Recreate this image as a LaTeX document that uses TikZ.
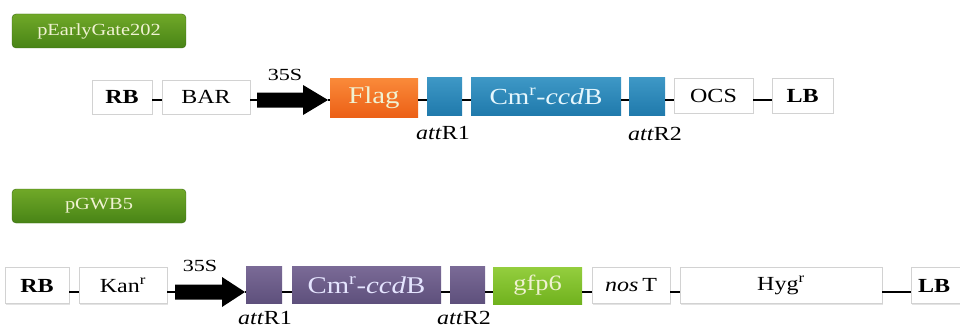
\documentclass[tikz,border=0pt]{standalone}
\usepackage{fontspec}
\setmainfont{Liberation Serif}
\usetikzlibrary{shadows}
\newcommand{\hx}[2][1.2]{\scalebox{#1}[1]{#2}}
\definecolor{lgtop}{RGB}{112,168,40}
\definecolor{lgbot}{RGB}{72,132,22}
\definecolor{ortop}{RGB}{250,138,58}
\definecolor{orbot}{RGB}{236,96,22}
\definecolor{bltop}{RGB}{62,152,198}
\definecolor{blbot}{RGB}{32,122,172}
\definecolor{putop}{RGB}{122,106,150}
\definecolor{pubot}{RGB}{94,80,124}
\definecolor{lmtop}{RGB}{148,206,62}
\definecolor{lmbot}{RGB}{112,178,30}
\definecolor{paletxt}{RGB}{240,242,210}
\begin{document}
\begin{tikzpicture}[x=1pt,y=-1pt,
  wbox/.style={draw=gray!35, line width=0.6pt, fill=white, inner sep=0pt,
    font=\fontsize{20}{20}\selectfont,
    drop shadow={opacity=0.22, shadow xshift=0.6pt, shadow yshift=-1.2pt}},
  cbox/.style={draw=none, inner sep=0pt, font=\fontsize{22}{22}\selectfont},
  orbox/.style={cbox, top color=ortop, bottom color=orbot, text=paletxt},
  blbox/.style={cbox, top color=bltop, bottom color=blbot, text=white!90!cyan},
  pubox/.style={cbox, top color=putop, bottom color=pubot, text=white!90!blue},
  lmbox/.style={cbox, top color=lmtop, bottom color=lmbot, text=paletxt},
  tagbox/.style={rounded corners=4pt, top color=lgtop, bottom color=lgbot,
    draw=lgbot!80!black, line width=0.4pt, text=paletxt, inner sep=0pt,
    minimum width=174, minimum height=34, font=\fontsize{17}{17}\selectfont},
  lbl/.style={inner sep=0pt, font=\fontsize{20}{20}\selectfont},
  conn/.style={line width=1.6pt, black},
  promoter/.style={fill=black}]
\useasboundingbox (0,0) rectangle (960,329);

% ---------- top construct ----------
\node[tagbox] (tag1) at (99,31) {\hx{pEarlyGate202}};

\coordinate (ly1) at (0,100);
\node[wbox, minimum width=60, minimum height=34] (rb1) at (122,97) {\hx{\textbf{RB}}};
\node[wbox, minimum width=88, minimum height=34] (bar1) at (206,97) {\hx{BAR}};
\coordinate (tail1) at (257,100);
\coordinate (tip1) at (328,100);
\fill[promoter] (257,92.5) -- (303,92.5) -- (303,85) -- (tip1) -- (303,115) -- (303,107.5) -- (257,107.5) -- cycle;
\node[lbl, font=\fontsize{17}{17}\selectfont] (p35a) at (285,75) {\hx[1.3]{35S}};
\node[orbox, minimum width=88, minimum height=39, font=\fontsize{24}{24}\selectfont] (flag1) at (374,97.5) {\hx{Flag}};
\node[blbox, minimum width=35, minimum height=38] (r1a) at (444.5,96) {};
\node[blbox, minimum width=150, minimum height=38, font=\fontsize{23}{23}\selectfont] (cm1) at (546,96) {\hx{Cm\textsuperscript{r}-\textit{ccd}B}};
\node[blbox, minimum width=36, minimum height=38] (r2a) at (647,96) {};
\node[wbox, minimum width=79, minimum height=35] (ocs1) at (713.5,95.5) {\hx{OCS}};
\node[wbox, minimum width=61, minimum height=35] (lb1) at (802.5,95.5) {\hx{\textbf{LB}}};

\draw[conn] (rb1.east |- ly1) -- (bar1.west |- ly1);
\draw[conn] (bar1.east |- ly1) -- (tail1);
\draw[conn] (tip1) -- (flag1.west |- ly1);
\draw[conn] (flag1.east |- ly1) -- (r1a.west |- ly1);
\draw[conn] (r1a.east |- ly1) -- (cm1.west |- ly1);
\draw[conn] (cm1.east |- ly1) -- (r2a.west |- ly1);
\draw[conn] (r2a.east |- ly1) -- (ocs1.west |- ly1);
\draw[conn] (ocs1.east |- ly1) -- (lb1.west |- ly1);

\node[lbl] (l1a) at (443,133) {\hx{\textit{att}R1}};
\node[lbl] (l2a) at (655,134) {\hx{\textit{att}R2}};

% ---------- bottom construct ----------
\node[tagbox] (tag2) at (99,206) {\hx{pGWB5}};

\coordinate (ly2) at (0,292);
\node[wbox, minimum width=64, minimum height=36] (rb2) at (37,285.5) {\hx{\textbf{RB}}};
\node[wbox, minimum width=88, minimum height=36] (kan2) at (123,285.5) {\hx{Kan\textsuperscript{r}}};
\coordinate (tail2) at (175,292);
\coordinate (tip2) at (245,292);
\fill[promoter] (175,284.5) -- (222,284.5) -- (222,277) -- (tip2) -- (222,307) -- (222,299.5) -- (175,299.5) -- cycle;
\node[lbl, font=\fontsize{17}{17}\selectfont] (p35b) at (200,266) {\hx[1.3]{35S}};
\node[pubox, minimum width=36, minimum height=37] (r1b) at (264,285) {};
\node[pubox, minimum width=149, minimum height=37, font=\fontsize{24}{24}\selectfont] (cm2) at (366.5,285) {\hx{Cm\textsuperscript{r}-\textit{ccd}B}};
\node[pubox, minimum width=35, minimum height=37] (r2b) at (467.5,285) {};
\node[lmbox, minimum width=89, minimum height=37] (gfp2) at (537.5,285.5) {\hx{gfp6}};
\node[wbox, minimum width=78, minimum height=36] (nos2) at (631,285.5) {\hx{\textit{nos}\,T}};
\node[wbox, minimum width=202, minimum height=36] (hyg2) at (781,285.5) {\hx{Hyg\textsuperscript{r}}};
\node[wbox, minimum width=64, minimum height=36, text width=50, align=left] (lb2) at (943,285.5) {\hx{\textbf{LB}}};

\draw[conn] (rb2.east |- ly2) -- (kan2.west |- ly2);
\draw[conn] (kan2.east |- ly2) -- (tail2);
\draw[conn] (tip2) -- (r1b.west |- ly2);
\draw[conn] (r1b.east |- ly2) -- (cm2.west |- ly2);
\draw[conn] (cm2.east |- ly2) -- (r2b.west |- ly2);
\draw[conn] (r2b.east |- ly2) -- (gfp2.west |- ly2);
\draw[conn] (gfp2.east |- ly2) -- (nos2.west |- ly2);
\draw[conn] (nos2.east |- ly2) -- (hyg2.west |- ly2);
\draw[conn] (hyg2.east |- ly2) -- (lb2.west |- ly2);

\node[lbl] (l1b) at (265,318) {\hx{\textit{att}R1}};
\node[lbl] (l2b) at (464,318) {\hx{\textit{att}R2}};
\end{tikzpicture}
\end{document}
